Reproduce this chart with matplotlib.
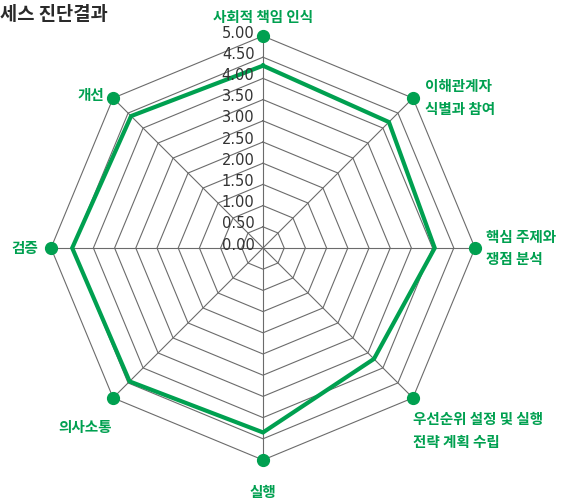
import numpy as np
import matplotlib.pyplot as plt

plt.rcParams['font.family'] = ['Noto Sans CJK KR', 'DejaVu Sans']

# categories (clockwise from top) and scores
categories = ['사회적 책임 인식', '이해관계자\n식별과 참여', '핵심 주제와\n쟁점 분석',
              '우선순위 설정 및 실행\n전략 계획 수립', '실행', '의사소통', '검증', '개선']
scores = [4.3, 4.2, 4.05, 3.7, 4.35, 4.45, 4.5, 4.4]
ring_levels = [0.5 * k for k in range(11)]
tick_labels = ['%.2f' % v for v in ring_levels]

green = '#00A050'
grid_col = '#6b6b6b'
rmax = 5.0

n = len(categories)
angles = np.deg2rad(90 - 360.0 / n * np.arange(n))
cx, cy = np.cos(angles), np.sin(angles)

fig = plt.figure(figsize=(5.67, 5.01), dpi=100)
ax = fig.add_axes([0, 0, 1, 1])
scale = 212 / rmax  # pixels per unit
ax.set_xlim(-263 / scale, (567 - 263) / scale)
ax.set_ylim(-(501 - 248) / scale, 248 / scale)
ax.axis('off')

# polygon rings
for lv in ring_levels[1:]:
    ax.plot(np.append(cx, cx[0]) * lv, np.append(cy, cy[0]) * lv,
            color=grid_col, lw=0.8, zorder=1)
# spokes
for x, y in zip(cx, cy):
    ax.plot([0, x * rmax], [0, y * rmax], color=grid_col, lw=0.8, zorder=1)

# data line
s = np.array(scores)
ax.plot(np.append(cx * s, cx[0] * s[0]), np.append(cy * s, cy[0] * s[0]),
        color=green, lw=3, zorder=3, solid_joinstyle='miter')
# outer dots
ax.plot(cx * rmax, cy * rmax, 'o', color=green, ms=8.5, zorder=4)

# ring value labels
for lv, lab in zip(ring_levels, tick_labels):
    ax.text(-0.2, lv + 0.07, lab, ha='right', va='center', fontsize=10.5,
            color='#333333', family=['Liberation Sans Narrow', 'DejaVu Sans'], zorder=5)

# category labels (offset in units)
label_pos = [
    ((0.0, 5.45), 'center', 'center'),
    ((3.83, 3.55), 'left', 'center'),
    ((5.25, 0.0), 'left', 'center'),
    ((3.53, -4.3), 'left', 'center'),
    ((0.0, -5.75), 'center', 'center'),
    ((-4.2, -4.22), 'center', 'center'),
    ((-5.3, 0.0), 'right', 'center'),
    ((-4.05, 3.6), 'center', 'center'),
]
for lab, ((x, y), ha, va) in zip(categories, label_pos):
    ax.text(x, y, lab, ha=ha, va=va, fontsize=10.5, color=green,
            fontweight='bold', linespacing=1.5, zorder=5)

fig.text(0.0, 0.972, '세스 진단결과', ha='left', va='center', fontsize=13.5,
         color='#2a2a2a', fontweight='bold')

fig.savefig('out.png', dpi=100)
